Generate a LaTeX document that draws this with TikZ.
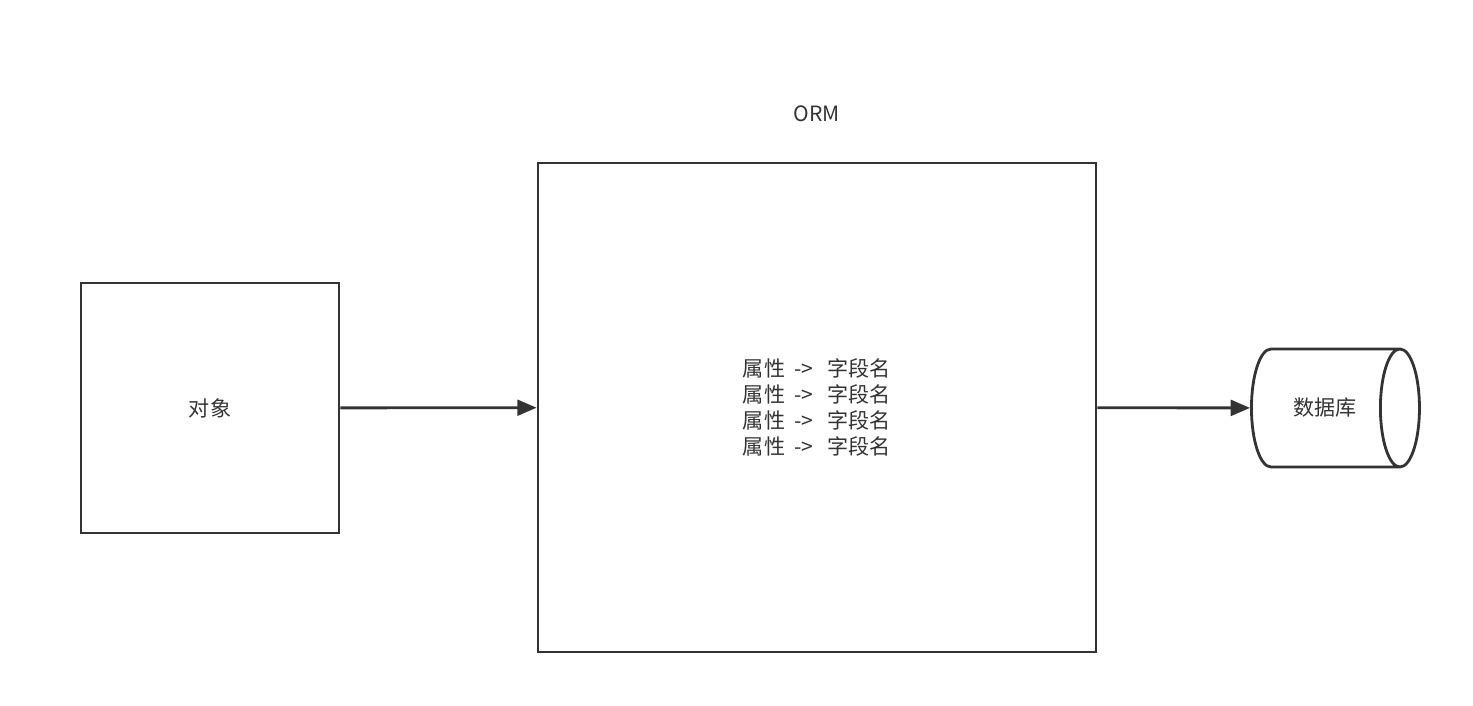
\documentclass[tikz,border=0pt]{standalone}
\usepackage{fontspec}
\newfontfamily\cjk{Noto Sans CJK SC}
\usetikzlibrary{arrows.meta,shapes.geometric}
\definecolor{ink}{HTML}{333333}
\newcommand{\mapline}{属性\ \ ->\ \ \ 字段名}
\begin{document}
\begin{tikzpicture}[line width=1.6pt, draw=ink, text=ink,
  main node/.style={rectangle,draw=ink,inner sep=0pt,font=\cjk\fontsize{12}{14.7}\selectfont},
  db node/.style={cylinder,shape border rotate=0,shape aspect=2,draw=ink,inner sep=0pt,font=\cjk\fontsize{12}{14.7}\selectfont},
  main arrow/.style={draw=ink,-{Triangle[length=11pt,width=9pt]}}]
\useasboundingbox (0,0) rectangle (29.46,14.12);
\node [main node,minimum width=5.16cm,minimum height=5cm](obj) at (4.2,5.96) {对象};
\node [main node,minimum width=11.16cm,minimum height=9.78cm,align=center](orm) at (16.34,5.97)
  {\mapline\\\mapline\\\mapline\\\mapline};
\node [font=\cjk\fontsize{12}{14.7}\selectfont,text=ink](ormlabel) at (16.34,11.84) {ORM};
\node [db node,minimum width=2.36cm,minimum height=3.36cm](db) at (26.5,5.96) {数据库};
\path [main arrow]
	(obj) edge (orm)
	(orm) edge (db)
         ;
\end{tikzpicture}
\end{document}
